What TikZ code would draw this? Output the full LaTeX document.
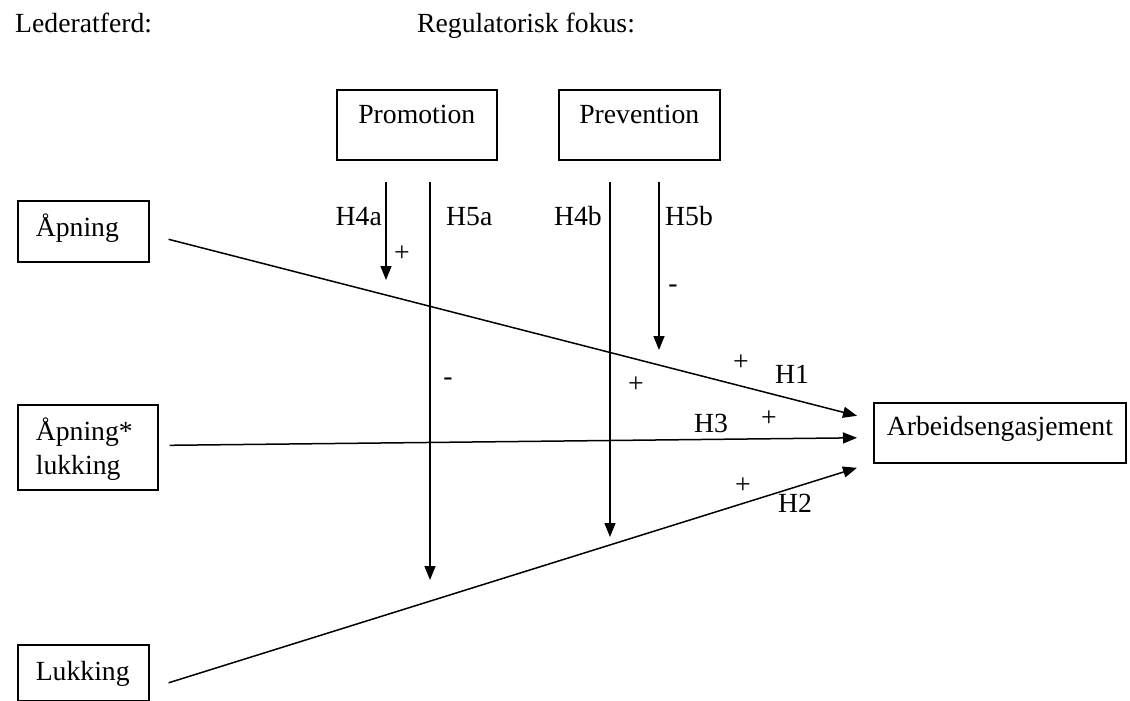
\documentclass[tikz,border=0pt]{standalone}
\usepackage{fontspec}
\setmainfont{Liberation Serif}
\usetikzlibrary{arrows.meta}

\begin{document}
\begin{tikzpicture}[
  x=1pt, y=-1pt,
  font=\fontsize{27.7}{34}\selectfont,
  box/.style={draw, line width=1.6pt, inner ysep=0pt, anchor=north west},
  leftbox/.style={box, inner xsep=18pt, align=left},
  arrow/.style={-{Triangle[length=14pt,width=11pt]}, line width=1.5pt},
  lbl/.style={inner sep=0pt},
  head/.style={lbl, anchor=base west}
]
\useasboundingbox (0,0) rectangle (1130,701);

\node[head] (hleder) at (15,33) {Lederatferd:};
\node[head] (hfokus) at (417,33) {Regulatorisk fokus:};

\node[box, minimum width=160pt, text height=34pt, text depth=36pt] (promo) at (336,89) {Promotion};
\node[box, minimum width=161pt, text height=34pt, text depth=36pt] (prev) at (558,89) {Prevention};

\node[leftbox, text width=95pt, text height=36pt, text depth=25pt] (apning) at (17,200) {Åpning};
\node[leftbox, text width=104pt, text height=36pt, text depth=49pt] (kombi) at (17,404) {Åpning*\\lukking};
\node[leftbox, text width=95pt, text height=36pt, text depth=20pt] (lukk) at (17,644) {Lukking};
\node[box, inner xsep=13pt, text height=33pt, text depth=27pt] (arb) at (873,402) {Arbeidsengasjement};

\coordinate (s1) at ([shift={(19,8)}]apning.east);
\coordinate (s3) at ([shift={(11,-2)}]kombi.east);
\coordinate (s2) at ([shift={(19,10)}]lukk.east);
\coordinate (t1) at ([shift={(-16,-17)}]arb.west);
\coordinate (t3) at ([shift={(-16,5)}]arb.west);
\coordinate (t2) at ([shift={(-16,35)}]arb.west);

\draw[arrow] (s1) -- (t1);
\draw[arrow] (s3) -- (t3);
\draw[arrow] (s2) -- (t2);

\coordinate (h4a) at (386,280);
\coordinate (h5a) at (430,580);
\coordinate (h4b) at (610,537);
\coordinate (h5b) at (659,350);

\draw[arrow, shorten <=21pt] (promo.south -| h4a) -- (h4a);
\draw[arrow, shorten <=21pt] (promo.south -| h5a) -- (h5a);
\draw[arrow, shorten <=21pt] (prev.south -| h4b) -- (h4b);
\draw[arrow, shorten <=21pt] (prev.south -| h5b) -- (h5b);

\node[lbl, anchor=base east] (l4a) at (382,225) {H4a};
\node[lbl, anchor=base west] (l5a) at (446,225) {H5a};
\node[lbl, anchor=base east] (l4b) at (602,225) {H4b};
\node[lbl, anchor=base west] (l5b) at (665,225) {H5b};
\node[lbl] (p4a) at (402,254) {+};
\node[lbl] (m5a) at (448,382) {-};
\node[lbl] (m5b) at (673,289) {-};
\node[lbl] (p4b) at (636,385) {+};
\node[lbl] (p1) at (741,363) {+};
\node[lbl, anchor=base west] (l1) at (775,383) {H1};
\node[lbl, anchor=base west] (l3) at (694,432) {H3};
\node[lbl] (p3) at (769,419) {+};
\node[lbl] (p2) at (743,486) {+};
\node[lbl, anchor=base west] (l2) at (778,512) {H2};
\end{tikzpicture}
\end{document}
